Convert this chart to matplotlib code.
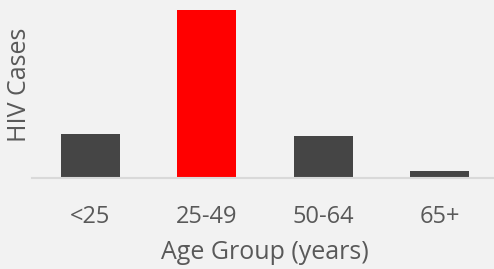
import matplotlib.pyplot as plt

# Age groups and relative case counts (no y scale shown)
groups = ['<25', '25-49', '50-64', '65+']
cases = [44, 168, 41.5, 7]
colors = ['#454545', '#ff0000', '#454545', '#454545']

plt.rcParams['font.family'] = ['Open Sans', 'DejaVu Sans']

fig = plt.figure(figsize=(4.94, 2.69), dpi=100, facecolor='#f2f2f2')
ax = fig.add_axes([32 / 494, 91.5 / 269, 466 / 494, 177.5 / 269])
ax.set_facecolor('#f2f2f2')

ax.bar(range(len(groups)), cases, width=0.51, color=colors)

ax.set_xlim(-0.5, 3.5)
ax.set_ylim(0, 177.5)
ax.set_xticks(range(len(groups)))
ax.set_xticklabels(groups, fontsize=17, color='#595959')
ax.tick_params(axis='x', length=0, pad=20)
ax.set_yticks([])

for side in ['top', 'right', 'left']:
    ax.spines[side].set_visible(False)
ax.spines['bottom'].set_color('#d9d9d9')
ax.spines['bottom'].set_linewidth(1.5)

ax.set_xlabel('Age Group (years)', fontsize=18, color='#595959', labelpad=8)
fig.text(19 / 494, 1 - 85 / 269, 'HIV Cases', rotation=90, fontsize=18,
         color='#595959', ha='center', va='center')

fig.savefig('out.png', dpi=100, facecolor=fig.get_facecolor())
